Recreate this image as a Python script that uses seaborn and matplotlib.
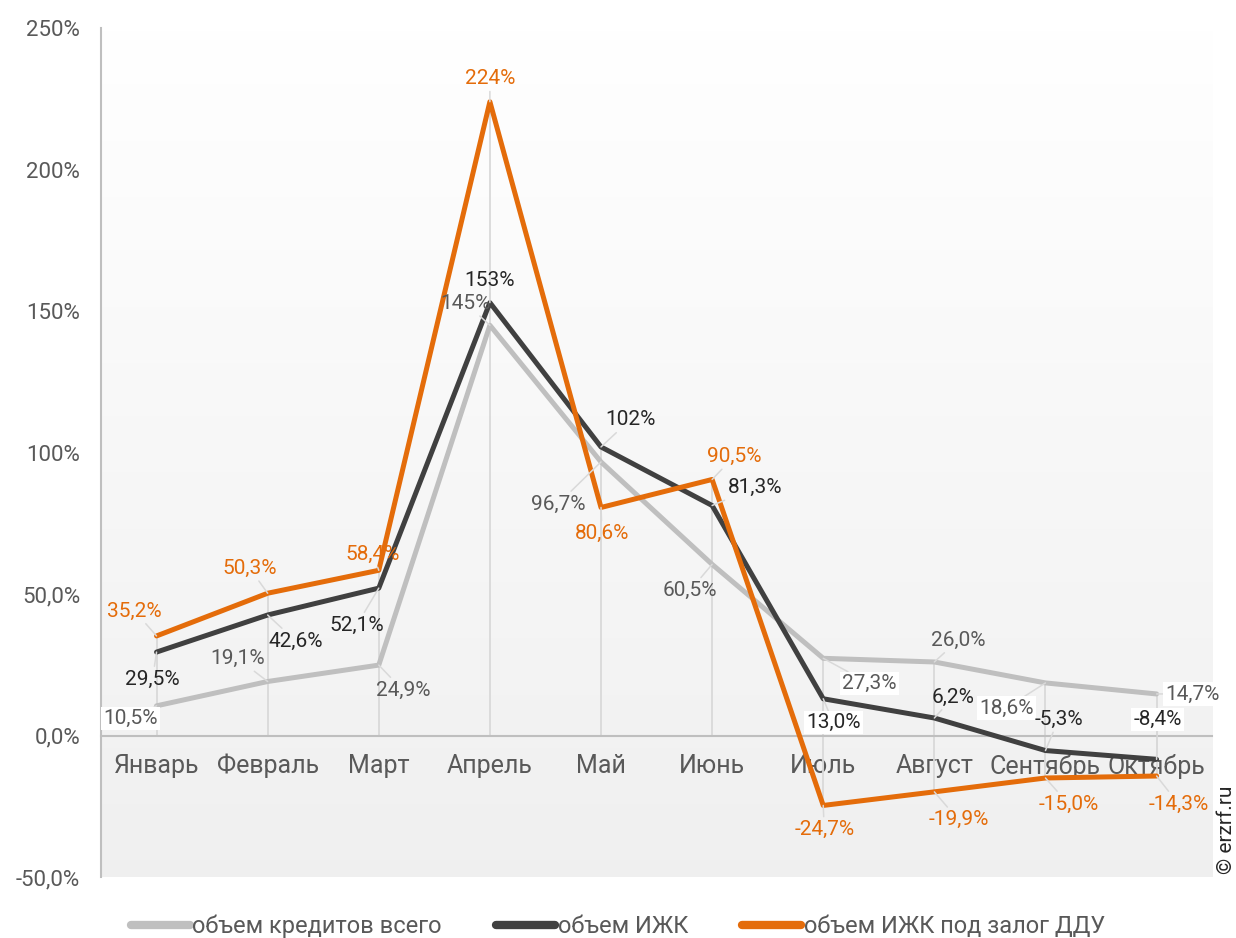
import matplotlib
matplotlib.use("Agg")
import matplotlib.pyplot as plt
from matplotlib.lines import Line2D
import seaborn as sns
import pandas as pd
import numpy as np

# data
months = ["Январь", "Февраль", "Март", "Апрель", "Май", "Июнь",
          "Июль", "Август", "Сентябрь", "Октябрь"]
total_loans = [10.5, 19.1, 24.9, 145, 96.7, 60.5, 27.3, 26.0, 18.6, 14.7]
izhk = [29.5, 42.6, 52.1, 153, 102, 81.3, 13.0, 6.2, -5.3, -8.4]
izhk_ddu = [35.2, 50.3, 58.4, 224, 80.6, 90.5, -24.7, -19.9, -15.0, -14.3]
series_names = ["объем кредитов всего", "объем ИЖК", "объем ИЖК под залог ДДУ"]
y_ticks = [-50, 0, 50, 100, 150, 200, 250]
y_ticklabels = ["-50,0%", "0,0%", "50,0%", "100%", "150%", "200%", "250%"]

line_colors = ["#BFBFBF", "#404040", "#E46C0A"]
label_colors = ["#595959", "#262626", "#E46C0A"]

# label offsets (pixels) from the point, per series
offsets = [
    [(-26, -13), (-30, 23), (24, -25), (-24, 22), (-43, -42), (-22, -26),
     (46, -25), (24, 22), (-39, -25), (36, 0)],
    [(-4, -27), (28, -26), (-22, -37), (0, 22), (29, 27), (43, 18),
     (10, -24), (19, 21), (13, 31), (1, 40)],
    [(-22, 25), (-18, 25), (-6, 16), (0, 23), (1, -26), (22, 23),
     (1, -24), (24, -28), (23, -26), (22, -28)],
]
white_box = {(0, 0), (0, 6), (0, 8), (0, 9), (1, 6), (1, 9)}


def fmt(v):
    if abs(v) >= 100:
        return f"{v:.0f}%"
    return f"{v:.1f}%".replace(".", ",")


sns.set_style("white")
plt.rcParams["font.family"] = ["Roboto", "DejaVu Sans"]

df = pd.DataFrame({
    "idx": np.tile(np.arange(len(months)), 3),
    "value": total_loans + izhk + izhk_ddu,
    "series": np.repeat(series_names, len(months)),
})

fig = plt.figure(figsize=(12.36, 9.38), dpi=100)
ax = fig.add_axes([0.0817, 0.065, 0.899, 0.905])

# gradient background
grad = np.linspace(1.0, 0.94, 256)[:, None]
grad = np.dstack([grad, grad, grad])
ax.imshow(grad, extent=(-0.5, 9.5, -50, 250), aspect="auto", zorder=0,
          origin="upper")

# drop lines
all_vals = np.array([total_loans, izhk, izhk_ddu])
ax.vlines(np.arange(len(months)), np.minimum(all_vals.min(axis=0), 0),
          np.maximum(all_vals.max(axis=0), 0), color="#D9D9D9", lw=1.3, zorder=1)

sns.lineplot(data=df, x="idx", y="value", hue="series",
             palette=dict(zip(series_names, line_colors)), hue_order=series_names,
             linewidth=3.6, sort=False, legend=False, ax=ax, zorder=3)
for ln in ax.lines:
    ln.set_solid_capstyle("round")
    ln.set_solid_joinstyle("round")

# data labels
for s, vals in enumerate([total_loans, izhk, izhk_ddu]):
    for i, v in enumerate(vals):
        box = None
        if (s, i) in white_box:
            box = dict(facecolor="white", edgecolor="none", pad=1.5)
        ax.annotate(fmt(v), xy=(i, v), xytext=offsets[s][i],
                    textcoords="offset pixels", ha="center", va="center",
                    fontsize=15, color=label_colors[s], bbox=box, zorder=5,
                    arrowprops=dict(arrowstyle="-", color="#D9D9D9", lw=1.1,
                                    shrinkA=0, shrinkB=0))

ax.set_xlim(-0.5, 9.5)
ax.set_ylim(-50, 250)
ax.set_xlabel("")
ax.set_ylabel("")

for side in ["top", "right"]:
    ax.spines[side].set_visible(False)
ax.spines["left"].set_color("#BFBFBF")
ax.spines["left"].set_linewidth(1.5)
ax.spines["bottom"].set_position(("data", 0))
ax.spines["bottom"].set_color("#BFBFBF")
ax.spines["bottom"].set_linewidth(1.5)
ax.spines["bottom"].set_zorder(2)

ax.set_xticks(range(len(months)))
ax.set_xticklabels(months)
ax.set_xticks(np.arange(0.5, 10, 1), minor=True)
ax.tick_params(axis="x", which="major", length=0, pad=13, labelsize=18,
               labelcolor="#595959")
ax.tick_params(axis="x", which="minor", length=8, width=1.5, color="#BFBFBF",
               direction="out")
ax.set_yticks(y_ticks)
ax.set_yticklabels(y_ticklabels)
ax.tick_params(axis="y", length=7, width=1.5, color="#BFBFBF", pad=8,
               labelsize=16, labelcolor="#595959")

handles = [Line2D([], [], color=c, lw=6, solid_capstyle="round") for c in line_colors]
fig.legend(handles, series_names, loc="center", bbox_to_anchor=(0.5, 0.012),
           ncol=3, frameon=False, fontsize=17, handlelength=2.5,
           handletextpad=0.1, columnspacing=2.3, labelcolor="#595959")

fig.text(0.9925, 0.068, "© erzrf.ru", rotation=90, ha="center", va="bottom",
         fontsize=15, color="#262626")

fig.savefig("out.png", dpi=100)
